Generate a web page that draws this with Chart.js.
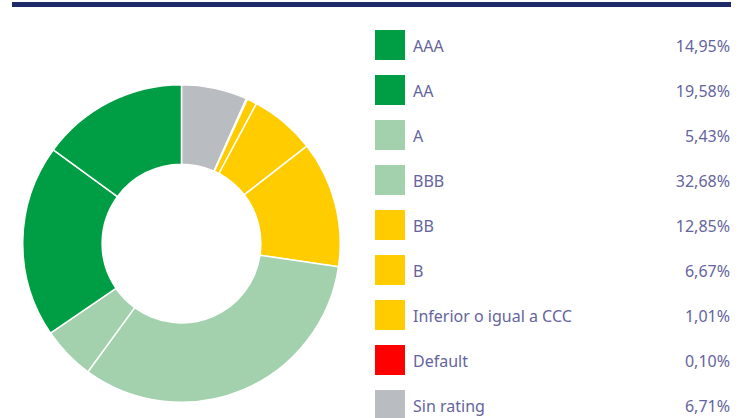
<!DOCTYPE html>
<html>
<head>
<meta charset="utf-8">
<script src="https://cdn.jsdelivr.net/npm/chart.js@4"></script>
<style>
  body { margin: 0; background: #fff; width: 747px; height: 418px; overflow: hidden; position: relative; font-family: "Noto Sans", sans-serif; }
  #topbar { position: absolute; left: 12px; top: 2px; width: 719px; height: 5px; background: #1d2b6a; }
  #chartBox { position: absolute; left: 22px; top: 84px; width: 319px; height: 319px; }
  .row { position: absolute; left: 375px; width: 355px; height: 30px; }
  .swatch { position: absolute; left: 0; top: 0; width: 30px; height: 30px; }
  .label { position: absolute; left: 38px; top: 1px; line-height: 30px; font-size: 16px; color: #65649d; }
  .pct { position: absolute; right: 0; top: 1px; line-height: 30px; font-size: 16px; color: #65649d; }
</style>
</head>
<body>
<div id="topbar"></div>
<div id="chartBox"><canvas id="ratingChart" width="319" height="319"></canvas></div>
<div id="legend"></div>
<script>
const labels = ['AAA', 'AA', 'A', 'BBB', 'BB', 'B', 'Inferior o igual a CCC', 'Default', 'Sin rating'];
const values = [14.95, 19.58, 5.43, 32.68, 12.85, 6.67, 1.01, 0.10, 6.71];
const colors = ['#009e44', '#009e44', '#a3d1ae', '#a3d1ae', '#ffcc00', '#ffcc00', '#ffcc00', '#ff0000', '#b9bcc0'];

// legend on the right
const legend = document.getElementById('legend');
labels.forEach((lab, i) => {
    const row = document.createElement('div');
    row.className = 'row';
    row.style.top = (30 + i * 45) + 'px';
    row.innerHTML = '<div class="swatch" style="background:' + colors[i] + '"></div>' +
        '<div class="label">' + lab + '</div>' +
        '<div class="pct">' + values[i].toFixed(2).replace('.', ',') + '%</div>';
    legend.appendChild(row);
});

// the ring runs counterclockwise from the top, so feed it reversed
const ctx = document.getElementById('ratingChart').getContext('2d');
new Chart(ctx, {
    type: 'doughnut',
    data: {
        labels: labels.slice().reverse(),
        datasets: [{
            data: values.slice().reverse(),
            backgroundColor: colors.slice().reverse(),
            borderColor: '#ffffff',
            borderWidth: 1.5
        }]
    },
    options: {
        responsive: false,
        animation: false,
        cutout: '50%',
        plugins: {
            legend: { display: false },
            tooltip: { enabled: false }
        }
    }
});
</script>
</body>
</html>
